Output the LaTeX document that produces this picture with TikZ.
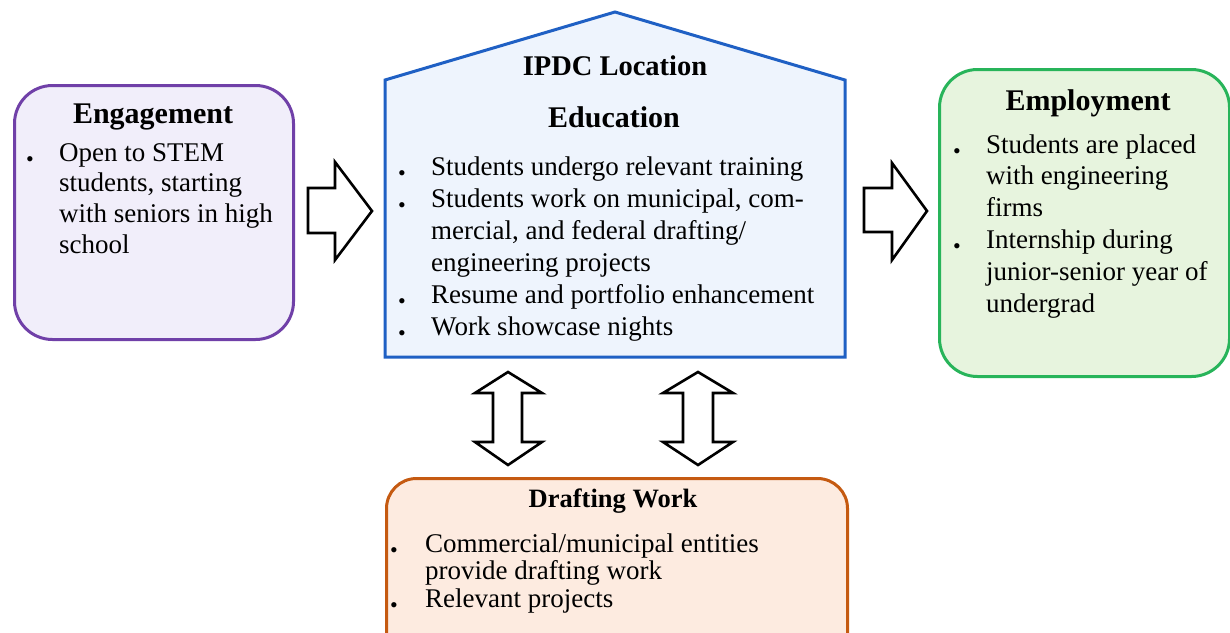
\documentclass[tikz,border=0pt]{standalone}
\usepackage{fontspec}
\setmainfont{Liberation Serif}
\definecolor{engB}{RGB}{112,64,168}
\definecolor{engF}{RGB}{241,238,250}
\definecolor{eduB}{RGB}{31,96,196}
\definecolor{eduF}{RGB}{238,244,253}
\definecolor{empB}{RGB}{40,180,90}
\definecolor{empF}{RGB}{231,244,222}
\definecolor{drfB}{RGB}{197,90,17}
\definecolor{drfF}{RGB}{253,235,224}
\newcommand\bul{\raisebox{-5pt}{\fontsize{22}{22}\selectfont\textbullet}}
\begin{document}
\begin{tikzpicture}[x=1pt,y=-1pt,
  box/.style={rounded corners=38pt, line width=3pt, draw, inner sep=0pt, anchor=north west},
  titletext/.style={font=\fontsize{30}{36}\selectfont\bfseries, anchor=base, inner sep=0pt},
  bodytext/.style={anchor=base west, inner sep=0pt},
  blockarrow/.style={draw=black, fill=white, line width=2.6pt, line join=miter}]
\useasboundingbox (0,0) rectangle (1230,632);
\fill[white] (0,0) rectangle (1230,632);

% boxes
\node[box, draw=engB, fill=engF, minimum width=279pt, minimum height=254pt] (eng) at (13,84) {};
\node[box, draw=empB, fill=empF, minimum width=290pt, minimum height=307pt] (emp) at (938,68) {};
\node[box, draw=drfB, fill=drfF, rounded corners=30pt, minimum width=461pt, minimum height=190pt] (drf) at (385,477) {};
\draw[line width=3pt, draw=eduB, fill=eduF, line join=miter] (385,357) -- (385,80) -- (615,12) -- (845,80) -- (845,357) -- cycle;
\coordinate (edu) at (615,200);

% block arrows
\draw[blockarrow] (308,188) -- (335,188) -- (335,162) -- (372,211) -- (335,260) -- (335,233) -- (308,233) -- cycle;
\draw[blockarrow] (864,188) -- (892,188) -- (892,163) -- (927,211) -- (892,260) -- (892,232) -- (864,232) -- cycle;
\draw[blockarrow] (508,372) -- (542,393) -- (522,393) -- (522,442) -- (542,442) -- (508,465) -- (475,442) -- (493,442) -- (493,393) -- (475,393) -- cycle;
\draw[blockarrow] (698,372) -- (733,393) -- (713,393) -- (713,442) -- (733,442) -- (698,465) -- (663,442) -- (683,442) -- (683,393) -- (663,393) -- cycle;

% Engagement text
\node[titletext] (engT) at (153,123) {Engagement};
\node[bodytext, font=\fontsize{27}{30.7}\selectfont] (engL) at (26,161)
  {\begin{tabular}[t]{@{}p{33pt}@{}l@{}}\bul & Open to STEM\\ & students, starting\\ & with seniors in high\\ & school\end{tabular}};

% Education text
\node[titletext, font=\fontsize{28.5}{34}\selectfont\bfseries] (eduT1) at (615,75) {IPDC Location};
\node[titletext] (eduT2) at (614,127) {Education};
\node[bodytext, font=\fontsize{27}{32}\selectfont] (eduL) at (398,175)
  {\begin{tabular}[t]{@{}p{33pt}@{}l@{}}\bul & Students undergo relevant training\\ \bul & Students work on municipal, com-\\ & mercial, and federal drafting/\\ & engineering projects\\ \bul & Resume and portfolio enhancement\\ \bul & Work showcase nights\end{tabular}};

% Employment text
\node[titletext] (empT) at (1088,110) {Employment};
\node[bodytext, font=\fontsize{27}{31.8}\selectfont] (empL) at (953,153)
  {\begin{tabular}[t]{@{}p{33pt}@{}l@{}}\bul & Students are placed\\ & with engineering\\ & firms\\ \bul & Internship during\\ & junior-senior year of\\ & undergrad\end{tabular}};

% Drafting text
\node[titletext, font=\fontsize{26.5}{32}\selectfont\bfseries] (drfT) at (613,507) {Drafting Work};
\node[bodytext, font=\fontsize{27}{27.7}\selectfont] (drfL) at (390,552)
  {\begin{tabular}[t]{@{}p{35pt}@{}l@{}}\bul & Commercial/municipal entities\\ & provide drafting work\\ \bul & Relevant projects\end{tabular}};
\end{tikzpicture}
\end{document}
